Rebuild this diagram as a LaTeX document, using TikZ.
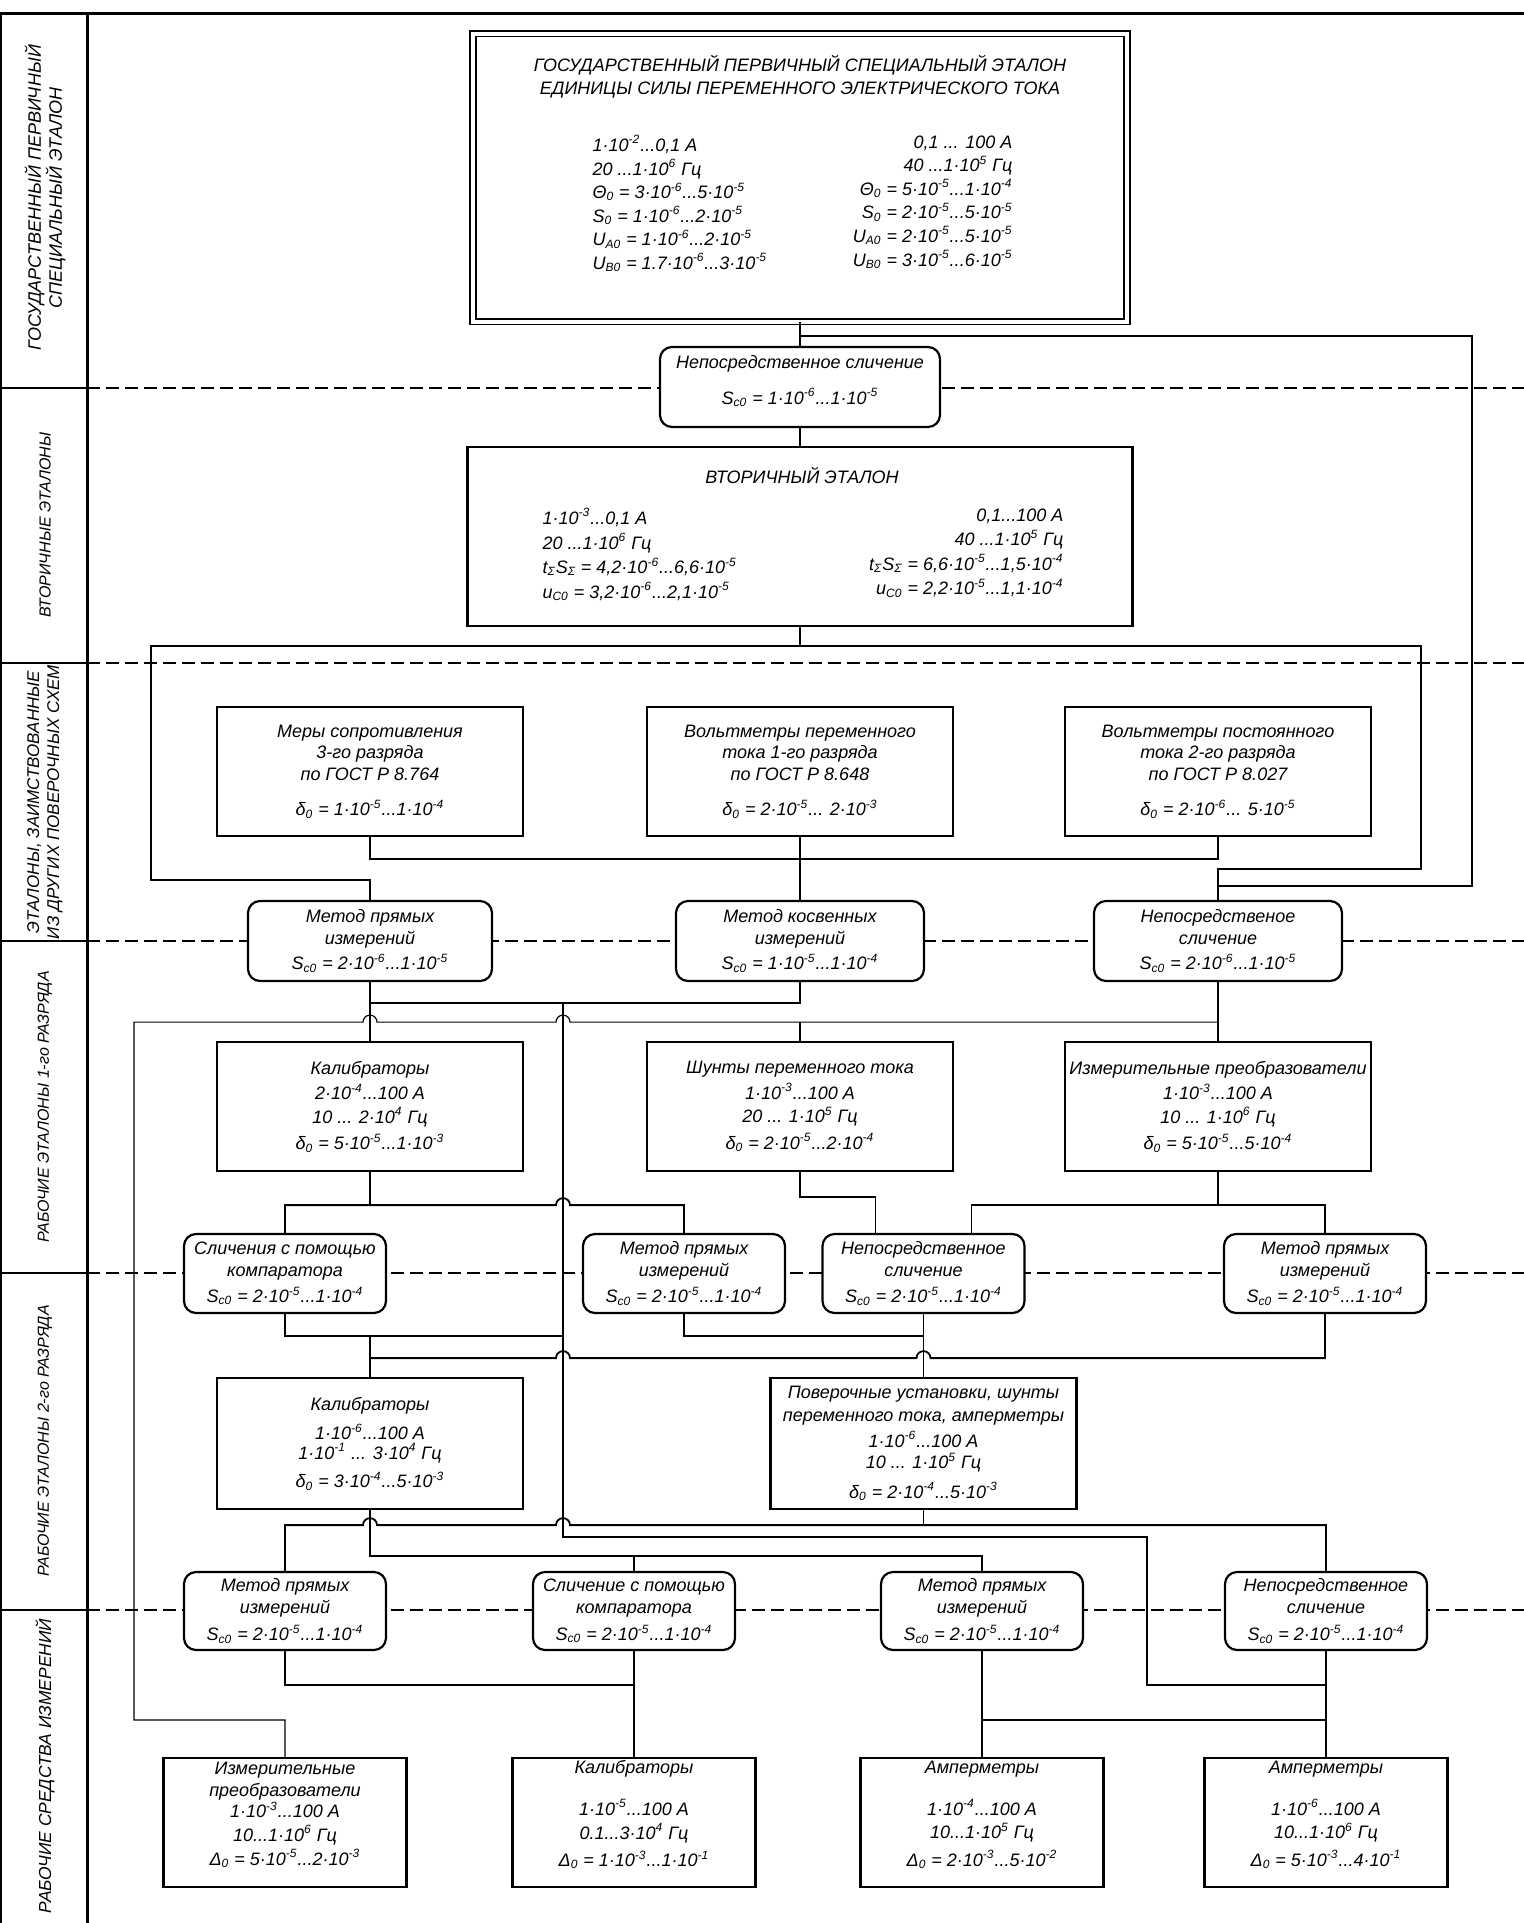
\documentclass[tikz,border=0pt]{standalone}
\usepackage{fontspec}
\setmainfont{Liberation Sans}
\usetikzlibrary{positioning,calc}
\newcommand{\tenp}[1]{·10\textsuperscript{#1}}
\newcommand{\txtfont}{\fontsize{9}{10.8}\selectfont\itshape}
\newcommand{\colfont}{\fontsize{9}{11.8}\selectfont\itshape}
\newcommand{\lblfont}{\fontsize{8}{10}\selectfont\itshape}

\begin{document}
\begin{tikzpicture}[x=0.5pt, y=-0.5pt, line width=0.9pt,
 box/.style={draw, fill=white, line width=1.1pt, align=center, inner sep=0pt, font=\txtfont},
 cmp/.style={box, rounded corners=6pt},
 lbl/.style={rotate=90, align=center, font=\lblfont},
 sep/.style={line width=1pt, dash pattern=on 6.5pt off 3pt},
 thinl/.style={line width=0.6pt}]
\useasboundingbox (0,0) rectangle (1524,1923);

% frame and level separators
\draw[line width=1.5pt] (0,13) -- (1524,13);
\draw[line width=1pt] (1,13) -- (1,1923);
\draw[line width=1.5pt] (87,13) -- (87,1923);
\foreach \yy in {388,663,941,1273,1610} {
  \draw[line width=1pt] (0,\yy) -- (87,\yy);
  \draw[sep] (87,\yy) -- (1524,\yy);
}
\node[lbl, font=\fontsize{9}{10.5}\selectfont\itshape] (l1) at (45,198) {ГОСУДАРСТВЕННЫЙ ПЕРВИЧНЫЙ\\СПЕЦИАЛЬНЫЙ ЭТАЛОН};
\node[lbl] (l2) at (45,525) {ВТОРИЧНЫЕ ЭТАЛОНЫ};
\node[lbl, font=\fontsize{8.5}{10}\selectfont\itshape] (l3) at (45,802) {ЭТАЛОНЫ, ЗАИМСТВОВАННЫЕ\\ИЗ ДРУГИХ ПОВЕРОЧНЫХ СХЕМ};
\node[lbl] (l4) at (45,1107) {РАБОЧИЕ ЭТАЛОНЫ 1-го РАЗРЯДА};
\node[lbl] (l5) at (45,1441) {РАБОЧИЕ ЭТАЛОНЫ 2-го РАЗРЯДА};
\node[lbl, font=\fontsize{8.7}{10}\selectfont\itshape] (l6) at (45,1766) {РАБОЧИЕ СРЕДСТВА ИЗМЕРЕНИЙ};

% primary standard
\node[box, line width=0.8pt, double, double distance=2pt, minimum width=327pt, minimum height=144pt] (n1) at (800,177.5) {};
\node[font=\colfont, align=center] (n1t) at (800,76.5) {ГОСУДАРСТВЕННЫЙ ПЕРВИЧНЫЙ СПЕЦИАЛЬНЫЙ ЭТАЛОН\\ЕДИНИЦЫ СИЛЫ ПЕРЕМЕННОГО ЭЛЕКТРИЧЕСКОГО ТОКА};
\node[font=\colfont, align=left, anchor=north west] (n1l) at (585,128) {1\tenp{-2}...0,1 А\\20 ...1\tenp{6} Гц\\Θ\textsubscript{0} = 3\tenp{-6}...5\tenp{-5}\\S\textsubscript{0} = 1\tenp{-6}...2\tenp{-5}\\U\textsubscript{A0} = 1\tenp{-6}...2\tenp{-5}\\U\textsubscript{B0} = 1.7\tenp{-6}...3\tenp{-5}};
\node[font=\colfont, align=right, anchor=north east] (n1r) at (1020,128) {0,1 ... 100 А\\40 ...1\tenp{5} Гц\\Θ\textsubscript{0} = 5\tenp{-5}...1\tenp{-4}\\S\textsubscript{0} = 2\tenp{-5}...5\tenp{-5}\\U\textsubscript{A0} = 2\tenp{-5}...5\tenp{-5}\\U\textsubscript{B0} = 3\tenp{-5}...6\tenp{-5}};
\node[cmp, minimum width=140pt, minimum height=40pt] (k1) at (800,387) {Непосредственное сличение\\[7pt]S\textsubscript{с0} = 1\tenp{-6}...1\tenp{-5}\\[-4pt]\mbox{}};

% secondary standard
\node[box, minimum width=332.5pt, minimum height=89.5pt] (n2) at (800,536.5) {};
\node[font=\colfont] (n2t) at (802,475) {ВТОРИЧНЫЙ ЭТАЛОН};
\node[font=\fontsize{9}{12.3}\selectfont\itshape, align=left, anchor=north west] (n2l) at (535,501) {1\tenp{-3}...0,1 А\\20 ...1\tenp{6} Гц\\t\textsubscript{Σ}S\textsubscript{Σ} = 4,2\tenp{-6}...6,6\tenp{-5}\\u\textsubscript{C0} = 3,2\tenp{-6}...2,1\tenp{-5}};
\node[font=\fontsize{9}{12.3}\selectfont\itshape, align=right, anchor=north east] (n2r) at (1071,501) {0,1...100 А\\40 ...1\tenp{5} Гц\\t\textsubscript{Σ}S\textsubscript{Σ} = 6,6\tenp{-5}...1,5\tenp{-4}\\u\textsubscript{C0} = 2,2\tenp{-5}...1,1\tenp{-4}};

% borrowed standards
\node[box, minimum width=153pt, minimum height=64.5pt] (z1) at (370,771.5) {Меры сопротивления\\3-го разряда\\по ГОСТ Р 8.764\\[7pt]δ\textsubscript{0} = 1\tenp{-5}...1\tenp{-4}};
\node[box, minimum width=153pt, minimum height=64.5pt] (z2) at (800,771.5) {Вольтметры переменного\\тока 1-го разряда\\по ГОСТ Р 8.648\\[7pt]δ\textsubscript{0} = 2\tenp{-5}... 2\tenp{-3}};
\node[box, minimum width=153pt, minimum height=64.5pt] (z3) at (1218,771.5) {Вольтметры постоянного\\тока 2-го разряда\\по ГОСТ Р 8.027\\[7pt]δ\textsubscript{0} = 2\tenp{-6}... 5\tenp{-5}};
\node[cmp, minimum width=122pt, minimum height=40pt] (m1) at (370,941) {Метод прямых\\измерений\\[2pt]S\textsubscript{с0} = 2\tenp{-6}...1\tenp{-5}};
\node[cmp, minimum width=124pt, minimum height=40pt] (m2) at (800,941) {Метод косвенных\\измерений\\[2pt]S\textsubscript{с0} = 1\tenp{-5}...1\tenp{-4}};
\node[cmp, minimum width=124pt, minimum height=40pt] (m3) at (1218,941) {Непосредственое\\сличение\\[2pt]S\textsubscript{с0} = 2\tenp{-6}...1\tenp{-5}};

% working standards, 1st rank
\node[box, minimum width=153pt, minimum height=64.5pt] (r1a) at (370,1106.5) {Калибраторы\\[2pt]2\tenp{-4}...100 А\\[1pt]10 ... 2\tenp{4} Гц\\[2.5pt]δ\textsubscript{0} = 5\tenp{-5}...1\tenp{-3}};
\node[box, minimum width=153pt, minimum height=64.5pt] (r1b) at (800,1106.5) {Шунты переменного тока\\[2pt]1\tenp{-3}...100 А\\[1pt]20 ... 1\tenp{5} Гц\\[2.5pt]δ\textsubscript{0} = 2\tenp{-5}...2\tenp{-4}};
\node[box, minimum width=153pt, minimum height=64.5pt] (r1c) at (1218,1106.5) {Измерительные преобразователи\\[2pt]1\tenp{-3}...100 А\\[1pt]10 ... 1\tenp{6} Гц\\[2.5pt]δ\textsubscript{0} = 5\tenp{-5}...5\tenp{-4}};
\node[cmp, minimum width=101pt, minimum height=39.5pt] (k3a) at (285,1273.5) {Сличения с помощью\\компаратора\\[2.5pt]S\textsubscript{с0} = 2\tenp{-5}...1\tenp{-4}};
\node[cmp, minimum width=101pt, minimum height=39.5pt] (k3b) at (684,1273.5) {Метод прямых\\измерений\\[2.5pt]S\textsubscript{с0} = 2\tenp{-5}...1\tenp{-4}};
\node[cmp, minimum width=101pt, minimum height=39.5pt] (k3c) at (923.5,1273.5) {Непосредственное\\сличение\\[2.5pt]S\textsubscript{с0} = 2\tenp{-5}...1\tenp{-4}};
\node[cmp, minimum width=101pt, minimum height=39.5pt] (k3d) at (1325,1273.5) {Метод прямых\\измерений\\[2.5pt]S\textsubscript{с0} = 2\tenp{-5}...1\tenp{-4}};

% working standards, 2nd rank
\node[box, minimum width=153pt, minimum height=65.5pt] (r2a) at (370,1443.5) {Калибраторы\\[4pt]1\tenp{-6}...100 А\\[-1pt]1\tenp{-1} ... 3\tenp{4} Гц\\[3.5pt]δ\textsubscript{0} = 3\tenp{-4}...5\tenp{-3}};
\node[box, minimum width=153pt, minimum height=65.5pt] (r2b) at (923.5,1443.5) {Поверочные установки, шунты\\[0.5pt]переменного тока, амперметры\\[2pt]1\tenp{-6}...100 А\\10 ... 1\tenp{5} Гц\\[4pt]δ\textsubscript{0} = 2\tenp{-4}...5\tenp{-3}};
\node[cmp, minimum width=101pt, minimum height=39pt] (k4a) at (285,1611) {Метод прямых\\измерений\\[3pt]S\textsubscript{с0} = 2\tenp{-5}...1\tenp{-4}};
\node[cmp, minimum width=101pt, minimum height=39pt] (k4b) at (634,1611) {Сличение с помощью\\компаратора\\[3pt]S\textsubscript{с0} = 2\tenp{-5}...1\tenp{-4}};
\node[cmp, minimum width=101pt, minimum height=39pt] (k4c) at (982,1611) {Метод прямых\\измерений\\[3pt]S\textsubscript{с0} = 2\tenp{-5}...1\tenp{-4}};
\node[cmp, minimum width=101pt, minimum height=39pt] (k4d) at (1326,1611) {Непосредственное\\сличение\\[3pt]S\textsubscript{с0} = 2\tenp{-5}...1\tenp{-4}};

% working measuring instruments
\node[box, minimum width=121.5pt, minimum height=64.5pt] (w1) at (285,1822.5) {Измерительные\\преобразователи\\1\tenp{-3}...100 А\\[1pt]10...1\tenp{6} Гц\\[1pt]Δ\textsubscript{0} = 5\tenp{-5}...2\tenp{-3}\\[-2pt]\mbox{}};
\node[box, minimum width=121.5pt, minimum height=64.5pt] (w2) at (634,1822.5) {Калибраторы\\[10pt]1\tenp{-5}...100 А\\[1pt]0.1...3\tenp{4} Гц\\[3pt]Δ\textsubscript{0} = 1\tenp{-3}...1\tenp{-1}\\[-2pt]\mbox{}};
\node[box, minimum width=121.5pt, minimum height=64.5pt] (w3) at (982,1822.5) {Амперметры\\[10pt]1\tenp{-4}...100 А\\[1pt]10...1\tenp{5} Гц\\[3pt]Δ\textsubscript{0} = 2\tenp{-3}...5\tenp{-2}\\[-2pt]\mbox{}};
\node[box, minimum width=121.5pt, minimum height=64.5pt] (w4) at (1326,1822.5) {Амперметры\\[10pt]1\tenp{-6}...100 А\\[1pt]10...1\tenp{6} Гц\\[3pt]Δ\textsubscript{0} = 5\tenp{-3}...4\tenp{-1}\\[-2pt]\mbox{}};

% links, top part
\draw (n1) -- (k1);
\draw (k1) -- (n2);
\draw ($(k1.north)+(0,-10)$) -| ($(m3.north)+(254,-14)$) -| (m3.north);
\coordinate (sb) at ($(n2.south)+(0,19)$);
\draw (n2.south) -- (sb);
\draw (sb) -| ($(m1.north)+(-219,-20)$) -| (m1.north);
\draw (sb) -| ($(m3.north)+(203,-31)$) -| (m3.north);
\draw (z1.south) -- ++(0,22) -| (z3.south);
\draw (z2) -- (m2);

% links to 1st rank
\draw (m1) -- (r1a);
\draw (m1.south) -- ++(0,21) -| (m2.south);
\coordinate (jm2) at ($(m1.south)+(193,21)$);
\draw (jm2) |- ($(k4d.north)+(-179,-34)$) |- ($(k4d.south)+(0,34)$);
\draw (m3) -- (r1c);
\coordinate (b3) at ($(m3.south)+(0,40)$);
\draw[thinl] (b3) -- ($(jm2 |- b3)+(7,0)$) arc (0:-180:7) -- ($(m1.south |- b3)+(7,0)$) arc (0:-180:7) -- ($(w1.north |- b3)+(-151,0)$) |- ($(w1.north)+(0,-37)$) -- (w1.north);
\draw[thinl] (r1b.north |- b3) -- (r1b.north);

% links to 2nd rank
\coordinate (b4) at ($(r1a.south)+(0,33)$);
\draw (r1a.south) -- (b4);
\draw (k3a.north) |- ($(jm2 |- b4)+(-7,0)$) arc (180:360:7) -| (k3b.north);
\draw (r1b.south) -- ++(0,25) -| ($(k3c.north)+(-48,0)$);
\draw (r1c.south) -- ++(0,33) coordinate (b4r);
\draw ($(k3c.north)+(48,0)$) |- (b4r) -| (k3d.north);
\coordinate (b5) at ($(k3a.south)+(0,22)$);
\draw (k3a.south) |- (jm2 |- b5);
\draw (r2a.north |- b5) -- (r2a.north);
\draw (k3b.south) |- (k3c.south |- b5);
\draw (k3c) -- (r2b);
\coordinate (b6) at ($(k3d.south)+(0,44)$);
\draw (k3d.south) |- ($(k3c.south |- b6)+(7,0)$) arc (0:-180:7) -- ($(jm2 |- b6)+(7,0)$) arc (0:-180:7) -- (r2a.north |- b6);

% links to measuring instruments
\coordinate (b7) at ($(r2b.south)+(0,15)$);
\draw (r2b.south) -- (b7);
\draw (k4d.north) |- ($(jm2 |- b7)+(7,0)$) arc (0:-180:7) -- ($(r2a.south |- b7)+(7,0)$) arc (0:-180:7) -| (k4a.north);
\coordinate (b8) at ($(r2a.south)+(0,46)$);
\draw (r2a.south) |- (k4c.north |- b8) -- (k4c.north);
\draw (k4b.north |- b8) -- (k4b.north);
\draw (k4a.south) |- ($(k4b.south)+(0,34)$);
\draw (k4b) -- (w2);
\draw (k4c) -- (w3);
\draw ($(w3.north)+(0,-37)$) -| (w4.north);
\draw (k4d) -- (w4);
\end{tikzpicture}
\end{document}
